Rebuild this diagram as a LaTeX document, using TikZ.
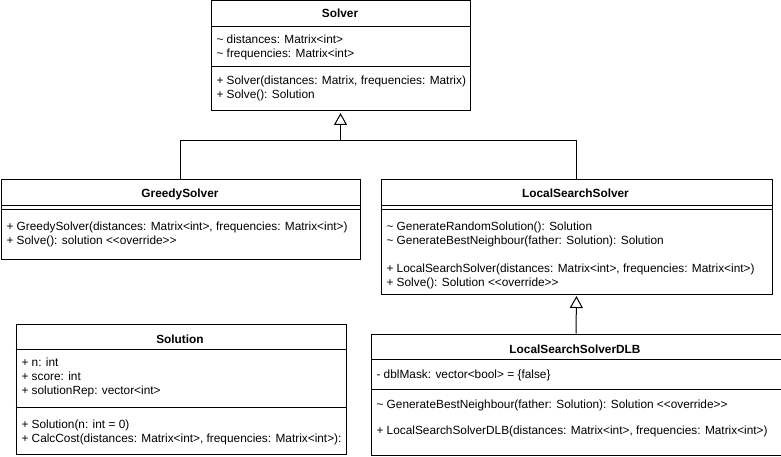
\documentclass[tikz,border=0pt]{standalone}
\usepackage{fontspec}
\setmainfont{Liberation Sans}
\usetikzlibrary{arrows.meta,positioning}

\begin{document}
\begin{tikzpicture}[x=1pt,y=-1pt,line width=1pt,font=\fontsize{11.85}{14}\selectfont,
  classbox/.style={draw,anchor=north west,inner sep=0pt},
  classname/.style={anchor=base,inner sep=0pt,font=\fontsize{11.85}{14}\selectfont\bfseries},
  member/.style={anchor=base west,inner sep=0pt},
  inherit/.style={-{Triangle[open,length=12pt,width=13pt]},shorten >=1.5pt}]

  \useasboundingbox (0,0) rectangle (781,457);

  % classes
  \node[classbox,minimum width=259pt,minimum height=110pt] (solver) at (210.5,0.5) {};
  \node[classbox,minimum width=359pt,minimum height=79pt] (greedy) at (0.5,179.5) {};
  \node[classbox,minimum width=391pt,minimum height=114pt] (localsearch) at (380.5,179.5) {};
  \node[classbox,minimum width=330pt,minimum height=130pt] (solution) at (15.5,323.5) {};
  \node[classbox,minimum width=410pt,minimum height=121pt] (dlb) at (370.5,333.5) {};

  % compartments
  \draw (solver.west |- 0,26.5) -- (solver.east |- 0,26.5);
  \draw (solver.west |- 0,66.5) -- (solver.east |- 0,66.5);
  \draw (greedy.west |- 0,205.5) -- (greedy.east |- 0,205.5);
  \draw (greedy.west |- 0,209.5) -- (greedy.east |- 0,209.5);
  \draw (localsearch.west |- 0,205.5) -- (localsearch.east |- 0,205.5);
  \draw (localsearch.west |- 0,209.5) -- (localsearch.east |- 0,209.5);
  \draw (solution.west |- 0,349.5) -- (solution.east |- 0,349.5);
  \draw (solution.west |- 0,407.5) -- (solution.east |- 0,407.5);
  \draw (dlb.west |- 0,359.5) -- (dlb.east |- 0,359.5);
  \draw (dlb.west |- 0,389.5) -- (dlb.east |- 0,389.5);

  % Solver
  \node[classname] (solvername) at (340,18) {Solver};
  \node[member] (solverattr1) at (216,44) {\textasciitilde{} distances: Matrix<int>};
  \node[member] (solverattr2) at (216,58) {\textasciitilde{} frequencies: Matrix<int>};
  \node[member] (solverop1) at (216,85) {+ Solver(distances: Matrix, frequencies: Matrix)};
  \node[member] (solverop2) at (216,99) {+ Solve(): Solution};

  % GreedySolver
  \node[classname] (greedyname) at (180,197) {GreedySolver};
  \node[member] (greedyop1) at (6,230) {+ GreedySolver(distances: Matrix<int>, frequencies: Matrix<int>)};
  \node[member] (greedyop2) at (6,244) {+ Solve(): solution <{}<override>{}>};

  % LocalSearchSolver
  \node[classname] (localname) at (575.5,197) {LocalSearchSolver};
  \node[member] (localop1) at (386,230) {\textasciitilde{} GenerateRandomSolution(): Solution};
  \node[member] (localop2) at (386,244) {\textasciitilde{} GenerateBestNeighbour(father: Solution): Solution};
  \node[member] (localop3) at (386,272) {+ LocalSearchSolver(distances: Matrix<int>, frequencies: Matrix<int>)};
  \node[member] (localop4) at (386,286) {+ Solve(): Solution <{}<override>{}>};

  % Solution
  \node[classname] (solutionname) at (180,343) {Solution};
  \node[member] (solattr1) at (21,366) {+ n: int};
  \node[member] (solattr2) at (21,380) {+ score: int};
  \node[member] (solattr3) at (21,394) {+ solutionRep: vector<int>};
  \node[member] (solop1) at (21,428) {+ Solution(n: int = 0)};
  \node[member] (solop2) at (21,442) {+ CalcCost(distances: Matrix<int>, frequencies: Matrix<int>):};

  % LocalSearchSolverDLB
  \node[classname] (dlbname) at (575,353) {LocalSearchSolverDLB};
  \node[member] (dlbattr1) at (376,378) {- dblMask: vector<bool> = \{false\}};
  \node[member] (dlbop1) at (376,408) {\textasciitilde{} GenerateBestNeighbour(father: Solution): Solution <{}<override>{}>};
  \node[member] (dlbop2) at (376,434) {+ LocalSearchSolverDLB(distances: Matrix<int>, frequencies: Matrix<int>)};

  % inheritance
  \coordinate (joint) at (solver.south |- 0,140.5);
  \draw (greedy.north) |- (joint) -| (localsearch.north);
  \draw[inherit] (joint) -- (solver.south);
  \draw[inherit] (dlb.north) -- (localsearch.south);

\end{tikzpicture}
\end{document}
